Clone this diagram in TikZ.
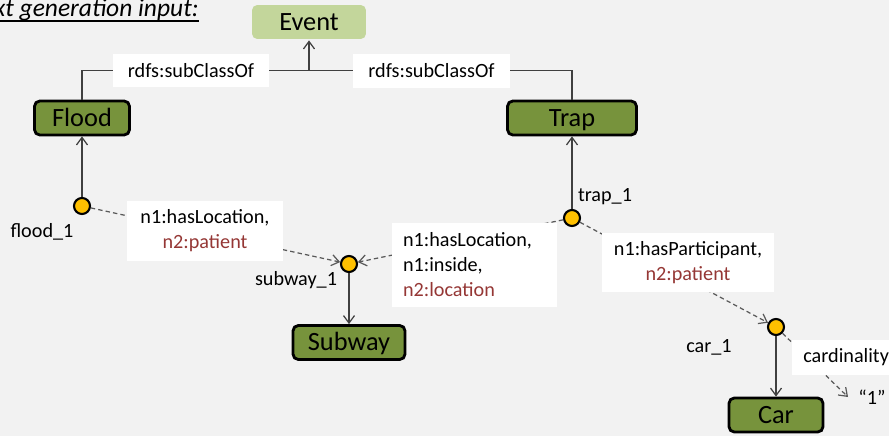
\documentclass[tikz,border=0pt]{standalone}
\usepackage{fontspec}
\setmainfont{Carlito}
\usetikzlibrary{arrows.meta, positioning}
\definecolor{bggray}{HTML}{F2F2F2}
\definecolor{classgreen}{HTML}{77933C}
\definecolor{eventgreen}{HTML}{C3D69B}
\definecolor{instorange}{HTML}{FFC000}
\definecolor{relred}{HTML}{953735}
\definecolor{linegray}{HTML}{404040}
\definecolor{dashgray}{HTML}{595959}

\begin{document}
\begin{tikzpicture}[
  x=0.02cm, y=-0.02cm,
  class/.style={draw=black, line width=1.6pt, fill=classgreen, rounded corners=3pt,
    minimum height=0.68cm, inner sep=0pt, text height=12.6pt, text depth=3pt,
    font=\fontsize{15}{18}\selectfont},
  inst/.style={circle, draw=black, line width=1.2pt, fill=instorange,
    minimum size=0.32cm, inner sep=0pt},
  rel/.style={fill=white, inner sep=0pt, align=center,
    font=\fontsize{11.5}{14.2}\selectfont},
  instname/.style={font=\fontsize{11.5}{14}\selectfont, inner sep=0pt},
  isa/.style={draw=linegray, line width=0.7pt,
    -{Straight Barb[length=1.5mm, width=2.2mm]}},
  link/.style={isa, draw=dashgray, dash pattern=on 2.5pt off 1.8pt}
]
  \useasboundingbox (0,0) rectangle (889,436);
  \clip (0,0) rectangle (889,436);
  \fill[bggray] (0,0) rectangle (889,436);

  % Title (cut at the left edge)
  \node[anchor=base east, inner sep=0pt, font=\fontsize{14.5}{17}\selectfont\itshape]
    (title) at (199,16) {Text generation input:};
  \draw[line width=0.9pt] ([yshift=-2.8pt]title.base west) -- ([yshift=-2.8pt]title.base east);

  % Classes
  \node[class, draw=none, fill=eventgreen, minimum width=2.28cm] (event) at (309,22) {Event};
  \node[class, minimum width=1.9cm] (flood) at (82,118) {Flood};
  \node[class, minimum width=2.58cm] (trap) at (572,118) {Trap};
  \node[class, minimum width=2.24cm] (subway) at (349,342.5) {Subway};
  \node[class, minimum width=1.88cm] (car) at (776,415) {Car};

  % Instances
  \node[inst] (flood1) at (82,206) {};
  \node[inst] (subway1) at (349,264) {};
  \node[inst] (trap1) at (572,218) {};
  \node[inst] (car1) at (776,327) {};
  \node[instname] at (42,232) {flood\_1};
  \node[instname] at (296,280) {subway\_1};
  \node[instname] at (605,197) {trap\_1};
  \node[instname] at (709,347) {car\_1};
  \node[instname, anchor=west, inner xsep=0.2cm] (one) at (848,397) {“1”};

  % subClassOf
  \coordinate (join) at (309,70.5);
  \draw[linegray, line width=0.7pt] (flood.north) -- (flood.north |- join)
    -- (trap.north |- join) -- (trap.north);
  \draw[isa] (join) -- (event);
  \node[rel, minimum width=3.12cm, minimum height=0.68cm] at (191,70.5) {rdfs:subClassOf};
  \node[rel, minimum width=3.14cm, minimum height=0.68cm] at (431.5,71) {rdfs:subClassOf};

  % Types
  \draw[isa] (flood1) -- (flood);
  \draw[isa] (trap1) -- (trap);
  \draw[isa] (subway1) -- (subway);
  \draw[isa] (car1) -- (car);

  % Relations
  \draw[link] (flood1) -- (subway1);
  \draw[link] (trap1) -- (subway1);
  \draw[link] (trap1) -- (car1);
  \draw[link] (car1) -- (one.west);
  \node[rel, minimum width=3.12cm, minimum height=1.2cm] at (205,231)
    {n1:hasLocation,\\ \color{relred}n2:patient};
  \node[rel, align=left, text width=2.86cm, inner xsep=0.22cm, minimum height=1.68cm]
    at (474.5,265) {n1:hasLocation,\\ n1:inside,\\ \color{relred}n2:location};
  \node[rel, minimum width=3.44cm, minimum height=1.18cm] at (688,262.5)
    {n1:hasParticipant,\\ \color{relred}n2:patient};
  \node[rel, anchor=west, inner xsep=0.22cm, minimum height=0.7cm] at (792,357.5) {cardinality};
\end{tikzpicture}
\end{document}
